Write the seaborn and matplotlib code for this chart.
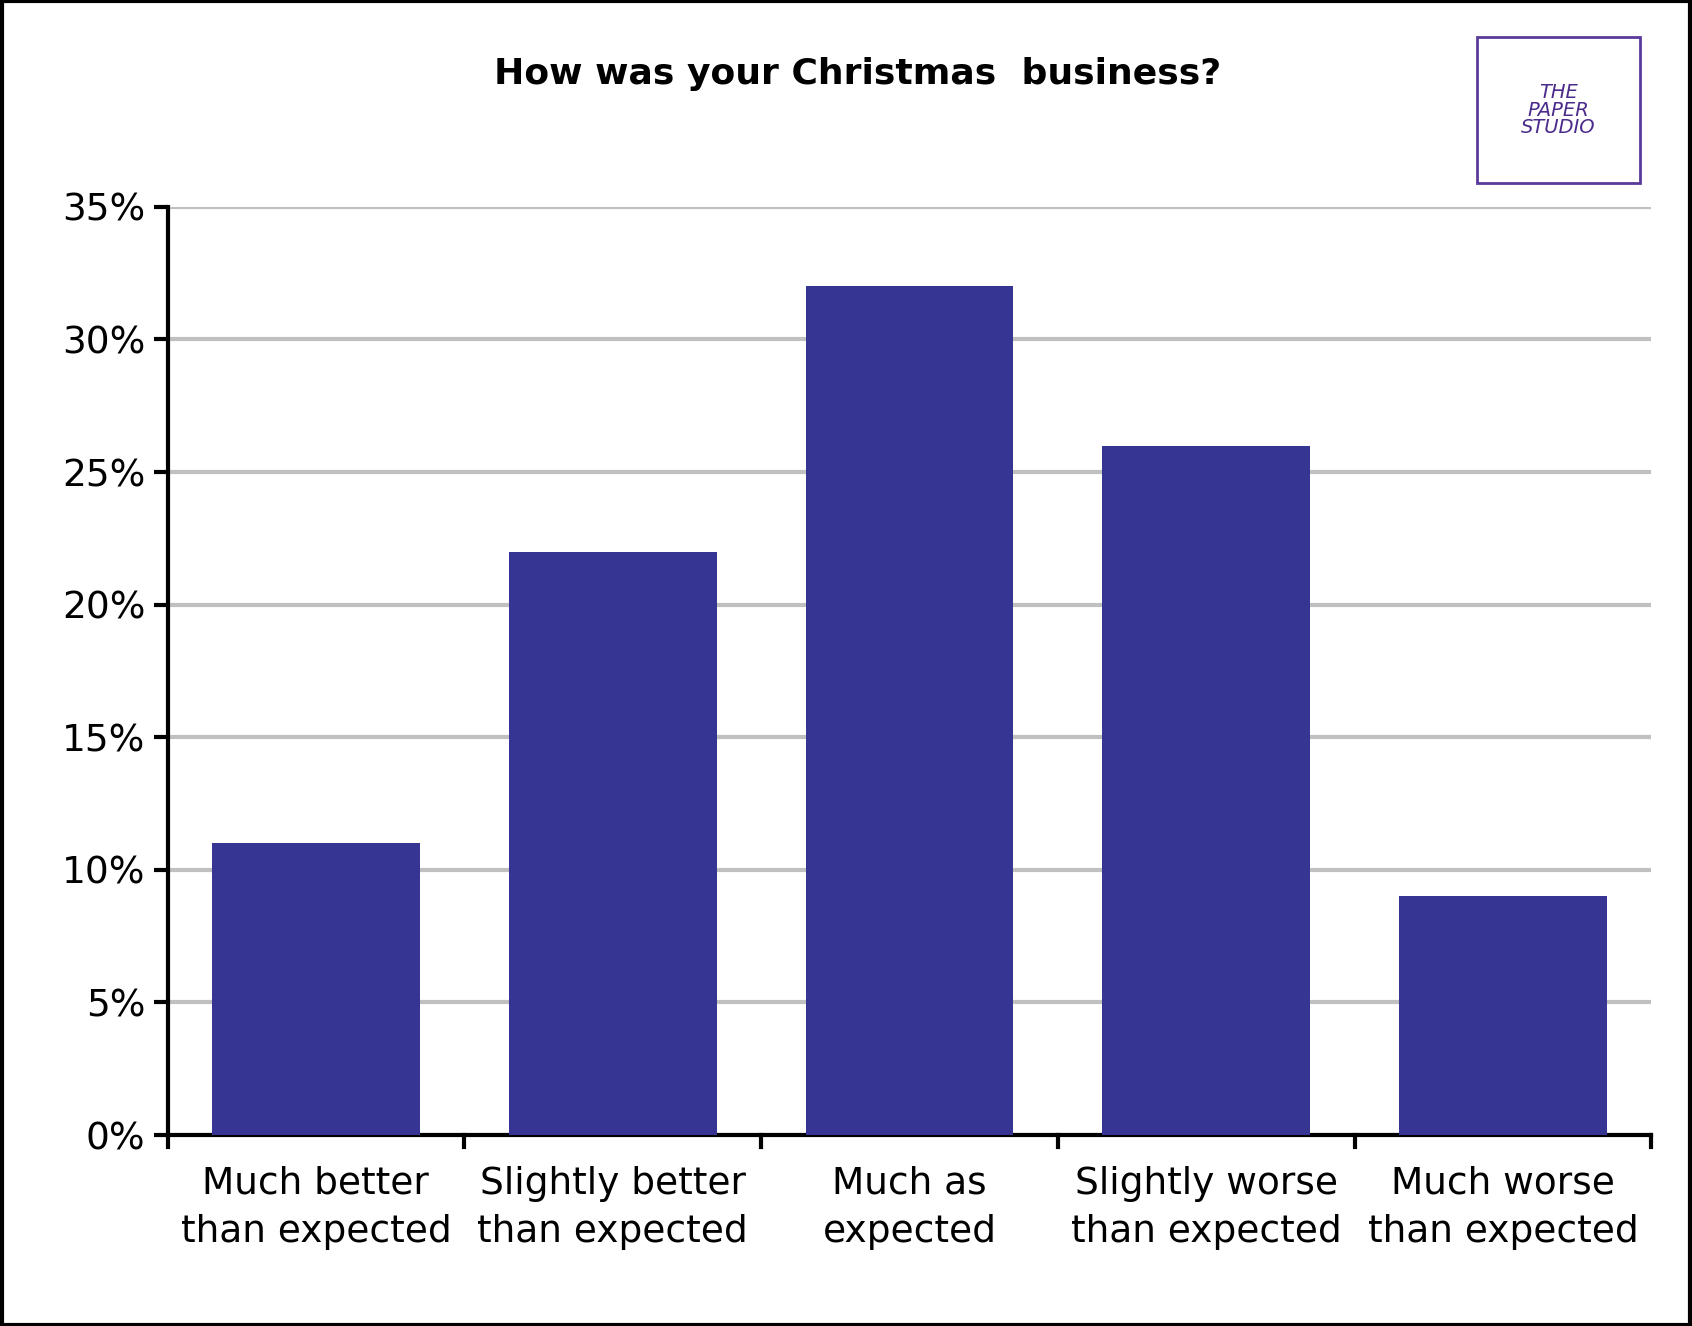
import matplotlib
matplotlib.use("Agg")
import matplotlib.pyplot as plt
import seaborn as sns
import pandas as pd
from matplotlib.ticker import FuncFormatter, MultipleLocator
from matplotlib.patches import Rectangle

categories = ["Much better\nthan expected", "Slightly better\nthan expected", "Much as\nexpected",
              "Slightly worse\nthan expected", "Much worse\nthan expected"]
values = [11, 22, 32, 26, 9]
title = "How was your Christmas  business?"

df = pd.DataFrame({"cat": categories, "val": values})
fig = plt.figure(figsize=(16.92, 13.26), dpi=100)
ax = fig.add_axes([0.099, 0.144, 0.877, 0.700])
sns.barplot(data=df, x="cat", y="val", color="#363594", saturation=1, width=0.7, ax=ax, zorder=3)
ax.set_ylim(0, 35)
ax.set_xlim(-0.5, 4.5)
ax.yaxis.set_major_locator(MultipleLocator(5))
ax.yaxis.set_major_formatter(FuncFormatter(lambda v, p: f"{v:.0f}%"))
ax.grid(axis="y", color="#c0c0c0", linewidth=3, zorder=0)
ax.set_xlabel(""); ax.set_ylabel("")
for s in ["top", "right"]:
    ax.spines[s].set_visible(False)
for s in ["left", "bottom"]:
    ax.spines[s].set_linewidth(3)
ax.tick_params(axis="y", labelsize=27, width=3, length=10, pad=6)
ax.tick_params(axis="x", labelsize=27, length=0, pad=22)
for t in ax.get_xticklabels():
    t.set_linespacing(1.45)
for xb in [-0.5, 0.5, 1.5, 2.5, 3.5, 4.5]:
    ax.plot([xb, xb], [0, -0.45], color="black", lw=3, clip_on=False, zorder=5)
fig.text(0.507, 0.944, title, ha="center", va="center", fontsize=26, fontweight="bold")
fig.patches.append(Rectangle((0.873, 0.862), 0.096, 0.11, transform=fig.transFigure,
                             fill=False, edgecolor="#5a3a9a", lw=2))
fig.text(0.921, 0.917, "THE\nPAPER\nSTUDIO", ha="center", va="center", fontsize=14,
         color="#4a2a8a", style="italic", linespacing=0.9)
fig.patches.append(Rectangle((0.001, 0.001), 0.998, 0.998, transform=fig.transFigure,
                             fill=False, edgecolor="black", lw=3))
fig.savefig("out.png", dpi=100)
